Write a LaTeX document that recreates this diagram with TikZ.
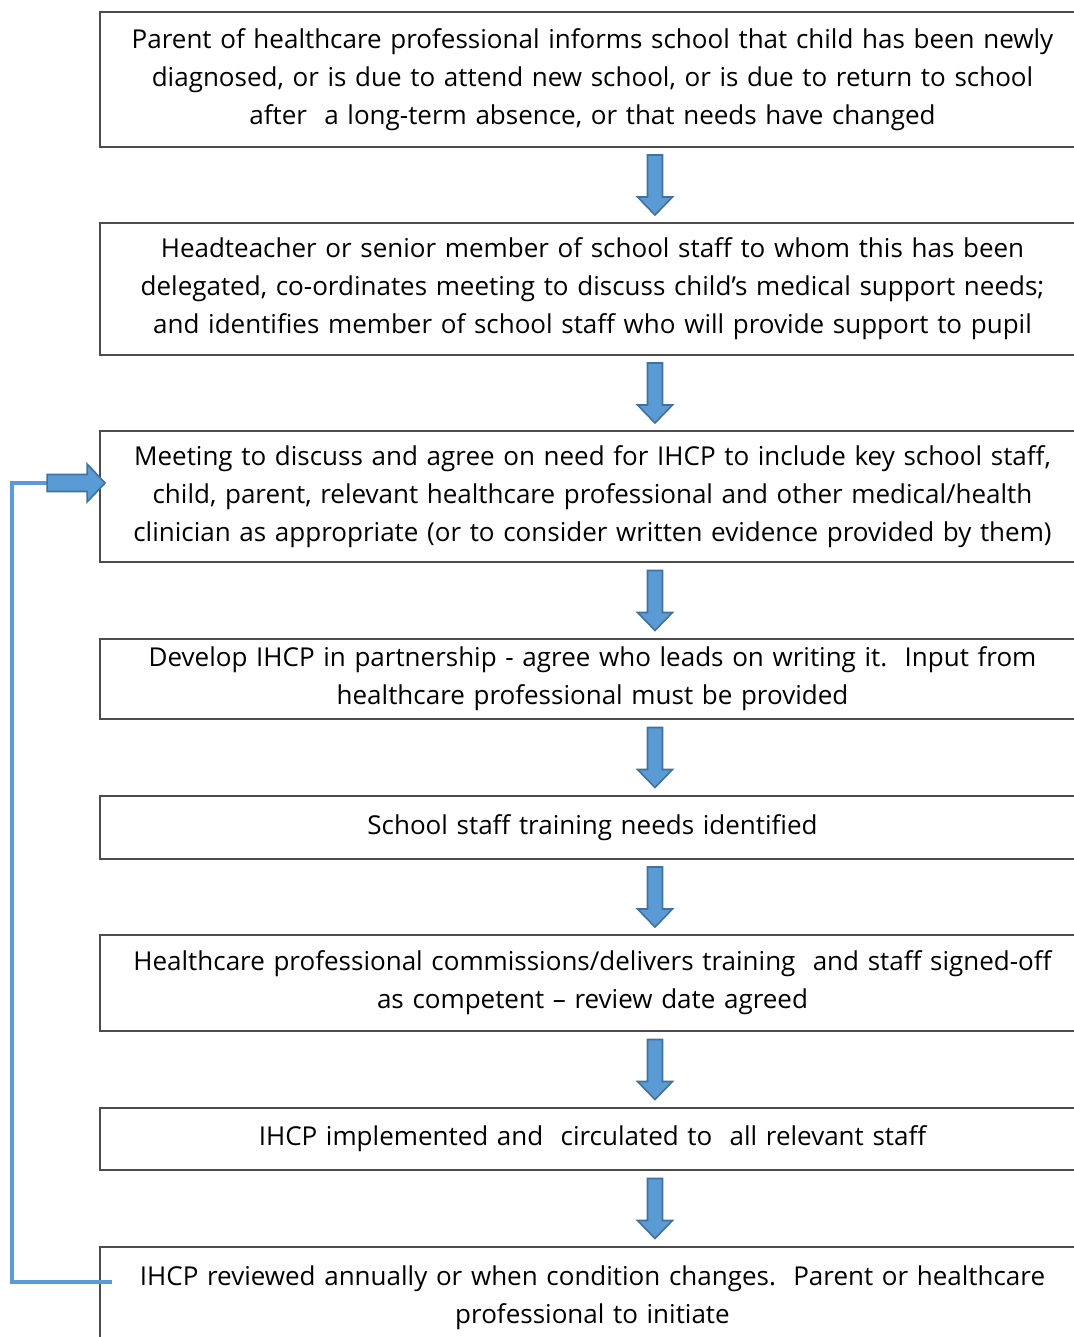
\documentclass[tikz,border=0pt]{standalone}
\usepackage{fontspec}
\setmainfont{Open Sans}
\usetikzlibrary{calc}
\definecolor{arrowblue}{HTML}{5B9BD5}
\definecolor{arrowedge}{HTML}{41719C}

% block arrow pointing down, between two boxes
\newcommand{\stagearrow}[2]{%
  \path (#1.south) -- (#2.north) coordinate[midway,xshift=31.25pt] (mid);
  \draw[blockarrow] ($(mid)+(-3.75pt,15pt)$) -- ($(mid)+(3.75pt,15pt)$)
    -- ($(mid)+(3.75pt,-6pt)$) -- ($(mid)+(8.75pt,-6pt)$)
    -- ($(mid)+(0,-15pt)$) -- ($(mid)+(-8.75pt,-6pt)$)
    -- ($(mid)+(-3.75pt,-6pt)$) -- cycle;}

\begin{document}
\begin{tikzpicture}[x=0.5pt,y=-0.5pt,
  stagebox/.style={draw=black!70,line width=0.9pt,minimum width=492.5pt,
    text width=492.5pt,align=center,inner sep=0pt,
    font=\fontsize{13}{19}\selectfont},
  blockarrow/.style={fill=arrowblue,draw=arrowedge,line width=0.8pt,line join=miter},
  loopline/.style={draw=arrowblue,line width=1.8pt}]
\useasboundingbox (0,0) rectangle (1074,1337);
\clip (0,0) rectangle (1074,1337);

% Stages
\node[stagebox,minimum height=67.5pt] (b1) at (592.5,79.5)
  {Parent of healthcare professional informs school that child has been newly\\
   diagnosed, or is due to attend new school, or is due to return to school\\
   after\ \ a long-term absence, or that needs have changed};
\node[stagebox,minimum height=66pt] (b2) at (592.5,289)
  {Headteacher or senior member of school staff to whom this has been\\
   delegated, co-ordinates meeting to discuss child’s medical support needs;\\
   and identifies member of school staff who will provide support to pupil};
\node[stagebox,minimum height=65.5pt] (b3) at (592.5,496.5)
  {Meeting to discuss and agree on need for IHCP to include key school staff,\\
   child, parent, relevant healthcare professional and other medical/health\\
   clinician as appropriate (or to consider written evidence provided by them)};
\node[stagebox,minimum height=40pt] (b4) at (592.5,679)
  {Develop IHCP in partnership - agree who leads on writing it.\ \ Input from\\
   healthcare professional must be provided};
\node[stagebox,minimum height=31.5pt] (b5) at (592.5,827.5)
  {School staff training needs identified};
\node[stagebox,minimum height=48pt] (b6) at (592.5,983)
  {Healthcare professional commissions/delivers training\ \ and staff signed-off\\
   as competent – review date agreed};
\node[stagebox,minimum height=31pt] (b7) at (592.5,1139)
  {IHCP implemented and\ \ circulated to\ \ all relevant staff};
\node[stagebox,minimum height=51pt] (b8) at (592.5,1298)
  {IHCP reviewed annually or when condition changes.\ \ Parent or healthcare\\
   professional to initiate};

% Arrows between stages
\stagearrow{b1}{b2}
\stagearrow{b2}{b3}
\stagearrow{b3}{b4}
\stagearrow{b4}{b5}
\stagearrow{b5}{b6}
\stagearrow{b6}{b7}
\stagearrow{b7}{b8}

% Review loop back to meeting
\coordinate (loopstart) at ([xshift=6.5pt,yshift=8pt]b8.west);
\coordinate (loopend) at ([xshift=-26pt,yshift=6.75pt]b3.west);
\draw[loopline] (loopstart) -- (12,1282) |- (loopend);
\draw[blockarrow] ([yshift=4.25pt]loopend) -- ++(20pt,0) -- ++(0,5.25pt)
  -- ([xshift=3pt,yshift=6.75pt]b3.west) -- ++(-9pt,-9.5pt) -- ++(0,5.25pt)
  -- ([yshift=-4.25pt]loopend) -- cycle;
\end{tikzpicture}
\end{document}
